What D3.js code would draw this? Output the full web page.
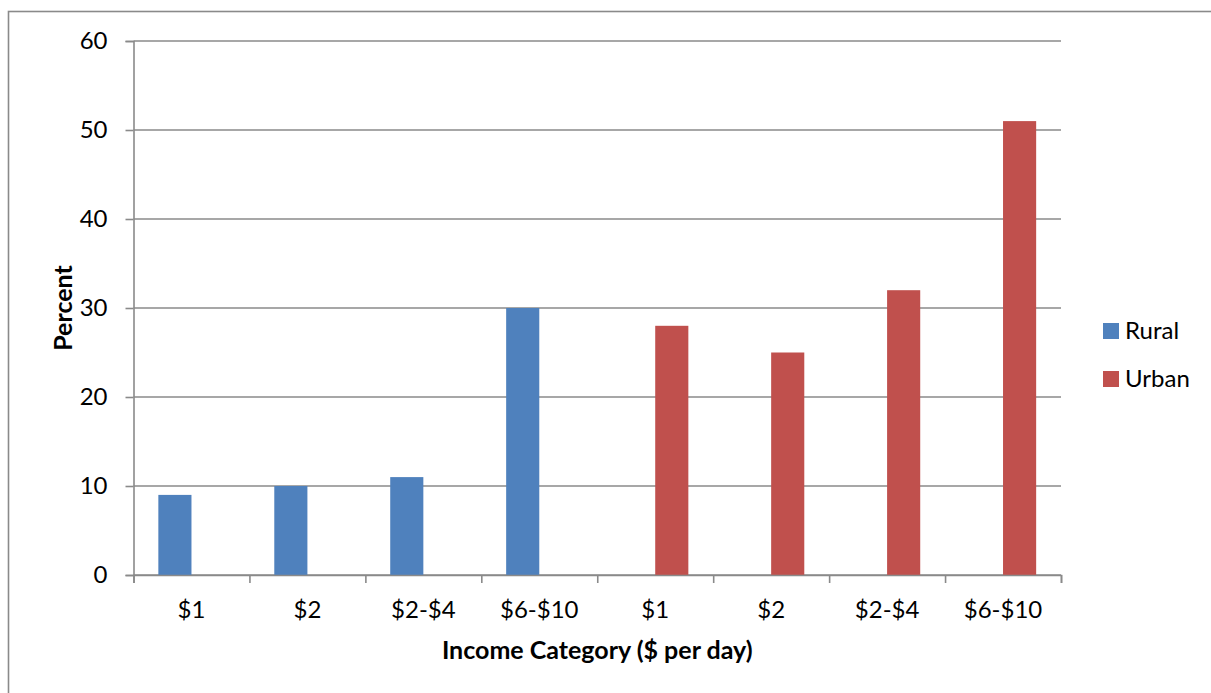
<!DOCTYPE html>
<html>
<head>
<meta charset="utf-8">
<script src="https://cdn.jsdelivr.net/npm/d3@7"></script>
<style>
  html, body { margin: 0; padding: 0; background: #ffffff; }
  svg { display: block; font-family: Lato, "Open Sans", sans-serif; }
</style>
</head>
<body>
<svg id="chart" width="1211" height="693"></svg>
<script>
// Income category labels (rural block then urban block)
const categories = ["$1", "$2", "$2-$4", "$6-$10", "$1", "$2", "$2-$4", "$6-$10"];
const seriesNames = ["Rural", "Urban"];
// Percent of households per income category
const rural = [9, 10, 11, 30, null, null, null, null];
const urban = [null, null, null, null, 28, 25, 32, 51];
const yTicks = [0, 10, 20, 30, 40, 50, 60];
const colors = ["#4F81BD", "#C0504D"];

const svg = d3.select("#chart");
const plot = { left: 133.5, right: 1061, top: 41, bottom: 575 };
const gridColor = "#8a8a8a";
const labelSize = 24;
const titleSize = 25;

// outer chart frame
svg.append("rect")
  .attr("x", 8.5).attr("y", 11.5)
  .attr("width", 1400).attr("height", 900)
  .attr("fill", "none").attr("stroke", gridColor).attr("stroke-width", 1.6);

const idx = categories.map((d, i) => i);
const x = d3.scaleBand().domain(idx).range([plot.left, plot.right]).paddingInner(0).paddingOuter(0);
const xSeries = d3.scaleBand().domain(seriesNames).range([0, x.bandwidth()]).paddingInner(0).paddingOuter(0.75);
const xEdges = d3.scaleLinear().domain([0, categories.length]).range([plot.left, plot.right]);
const y = d3.scaleLinear().domain([0, 60]).range([plot.bottom, plot.top]);

// horizontal gridlines
svg.append("g")
  .selectAll("line")
  .data(yTicks)
  .join("line")
  .attr("x1", plot.left).attr("x2", plot.right)
  .attr("y1", d => y(d)).attr("y2", d => y(d))
  .attr("stroke", gridColor).attr("stroke-width", 1.6);

// bars
const series = [rural, urban];
series.forEach((vals, s) => {
  svg.append("g")
    .selectAll("rect")
    .data(vals.map((v, i) => ({ i, v })).filter(d => d.v != null))
    .join("rect")
    .attr("x", d => x(d.i) + xSeries(seriesNames[s]))
    .attr("width", xSeries.bandwidth())
    .attr("y", d => y(d.v))
    .attr("height", d => y(0) - y(d.v))
    .attr("fill", colors[s]);
});

// y axis
const yAxis = svg.append("g")
  .attr("transform", `translate(${plot.left},0)`)
  .call(d3.axisLeft(y).tickValues(yTicks).tickSize(8).tickPadding(18));
yAxis.select(".domain").attr("stroke", gridColor).attr("stroke-width", 1.6);
yAxis.selectAll(".tick line").attr("stroke", gridColor).attr("stroke-width", 1.6);
yAxis.selectAll(".tick text")
  .attr("font-family", "Lato, sans-serif")
  .attr("font-size", labelSize).attr("fill", "#000");

// x axis: tick marks between categories
const xTickAxis = svg.append("g")
  .attr("transform", `translate(0,${plot.bottom})`)
  .call(d3.axisBottom(xEdges).tickValues(d3.range(categories.length + 1)).tickSize(8).tickFormat(""));
xTickAxis.select(".domain").attr("stroke", gridColor).attr("stroke-width", 1.6);
xTickAxis.selectAll(".tick line").attr("stroke", gridColor).attr("stroke-width", 1.6);

// x axis labels centered in each category
const xLabelAxis = svg.append("g")
  .attr("transform", `translate(0,${plot.bottom})`)
  .call(d3.axisBottom(x).tickSize(0).tickFormat(i => categories[i]));
xLabelAxis.select(".domain").remove();
xLabelAxis.selectAll(".tick text")
  .attr("y", 43).attr("dy", 0)
  .attr("font-family", "Lato, sans-serif")
  .attr("font-size", labelSize).attr("fill", "#000");

// axis titles
svg.append("text")
  .attr("x", (plot.left + plot.right) / 2).attr("y", 659)
  .attr("text-anchor", "middle")
  .attr("font-size", titleSize).attr("font-weight", "bold").attr("fill", "#000")
  .text("Income Category ($ per day)");

svg.append("text")
  .attr("transform", `translate(71.5,${(plot.top + plot.bottom) / 2}) rotate(-90)`)
  .attr("text-anchor", "middle")
  .attr("font-size", titleSize).attr("font-weight", "bold").attr("fill", "#000")
  .text("Percent");

// legend
const legend = svg.append("g").attr("transform", "translate(1103,323)");
seriesNames.forEach((name, s) => {
  const g = legend.append("g").attr("transform", `translate(0,${s * 48})`);
  g.append("rect").attr("width", 16).attr("height", 16).attr("fill", colors[s]);
  g.append("text").attr("x", 22).attr("y", 16)
    .attr("font-size", labelSize).attr("fill", "#000").text(name);
});
</script>
</body>
</html>
